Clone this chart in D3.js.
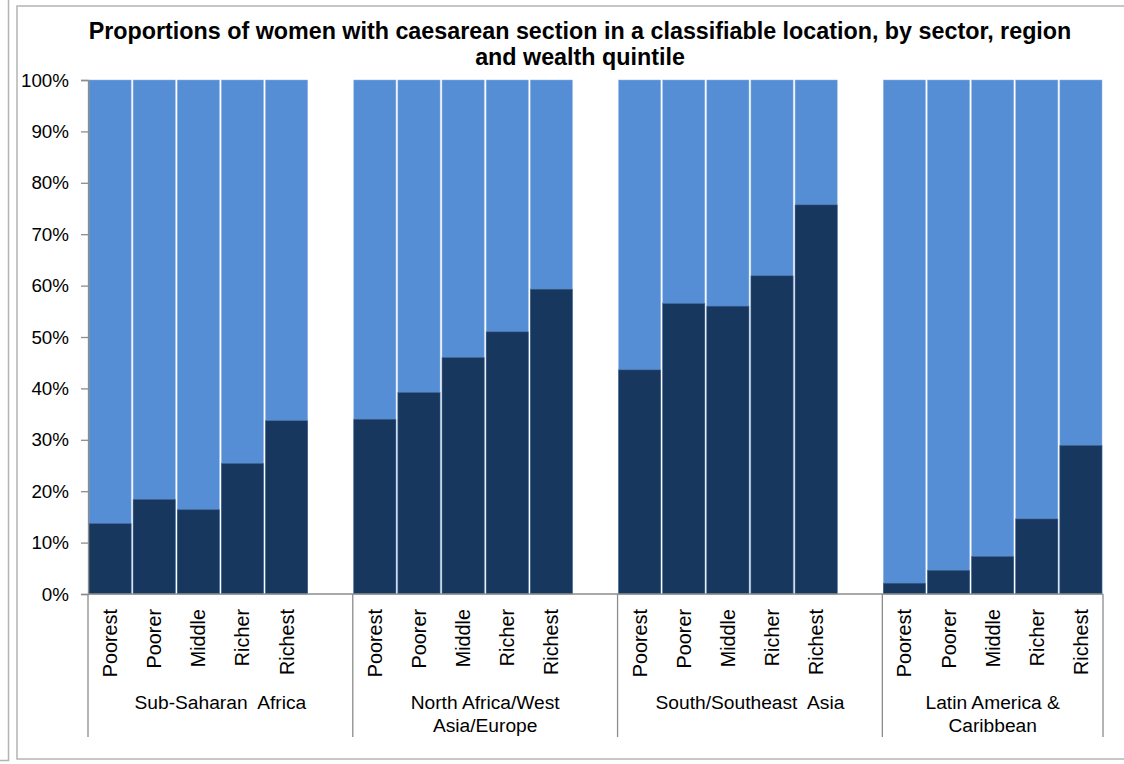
<!DOCTYPE html>
<html>
<head>
<meta charset="utf-8">
<script src="https://cdn.jsdelivr.net/npm/d3@7/dist/d3.min.js"></script>
<style>
  html, body { margin: 0; padding: 0; background: #fff; }
  svg { display: block; font-family: Arial, "Liberation Sans", sans-serif; }
</style>
</head>
<body>
<svg id="chart" width="1124" height="764"></svg>
<script>
// Regions (top level of the category axis) and their wrapped labels
const regions = ["Sub-Saharan Africa", "North Africa/West Asia/Europe", "South/Southeast Asia", "Latin America & Caribbean"];
const regionLabels = [
  ["Sub-Saharan  Africa"],
  ["North Africa/West", "Asia/Europe"],
  ["South/Southeast  Asia"],
  ["Latin America &", "Caribbean"]
];
// Wealth quintiles (second level of the category axis)
const quintiles = ["Poorest", "Poorer", "Middle", "Richer", "Richest"];
// Share (%) of caesarean sections in a classifiable location, per region, per quintile
const classifiable = [
  [13.7, 18.4, 16.4, 25.4, 33.7],
  [34.0, 39.2, 46.0, 51.0, 59.3],
  [43.6, 56.5, 56.0, 61.9, 75.7],
  [2.1, 4.6, 7.3, 14.6, 28.9]
];
// Y axis tick values (%)
const yTicks = [0, 10, 20, 30, 40, 50, 60, 70, 80, 90, 100];

const title = [
  "Proportions of women with caesarean section in a classifiable location, by sector, region",
  "and wealth quintile"
];

const colDark = "#17375E";
const colLight = "#558ED5";
const gridGray = "#8c8c8c";

const svg = d3.select("#chart");

// Surrounding frames
svg.append("path")
  .attr("d", "M8.5,0 V760.5 H0")
  .attr("fill", "none").attr("stroke", "#b4b4b4").attr("stroke-width", 1.5);
svg.append("rect")
  .attr("x", 17).attr("y", 6).attr("width", 1130).attr("height", 753)
  .attr("fill", "#fff").attr("stroke", "#b4b4b4").attr("stroke-width", 1.5);

// Title
svg.append("text")
  .attr("x", 580).attr("y", 39)
  .attr("text-anchor", "middle")
  .attr("font-weight", "bold").attr("font-size", 23.3)
  .selectAll("tspan").data(title).join("tspan")
  .attr("x", 580).attr("dy", (d, i) => i === 0 ? 0 : 26)
  .text(d => d);

// Slots: each region's five quintiles, followed by an empty spacer slot (except after the last region)
const slots = [];
regions.forEach((r, ri) => {
  quintiles.forEach((q, qi) => slots.push({ key: ri + "-" + qi, region: ri, q: qi, value: classifiable[ri][qi] }));
  if (ri < regions.length - 1) slots.push({ key: "gap-" + ri, spacer: true });
});

const plot = { left: 88, right: 1103, top: 80, bottom: 594 };

const x = d3.scaleBand()
  .domain(slots.map(d => d.key))
  .range([plot.left, plot.right])
  .paddingInner(0).paddingOuter(0);

const y = d3.scaleLinear().domain([0, 100]).range([plot.bottom, plot.top]);

const bars = slots.filter(d => !d.spacer);

// Full (100%) light bars
svg.append("g").selectAll("rect").data(bars).join("rect")
  .attr("x", d => x(d.key) + 1)
  .attr("width", x.bandwidth() - 2)
  .attr("y", y(100))
  .attr("height", y(0) - y(100))
  .attr("fill", colLight)
  .attr("stroke", "#8fb4e3").attr("stroke-width", 0.5);

// Dark bars: classifiable share
svg.append("g").selectAll("rect").data(bars).join("rect")
  .attr("x", d => x(d.key) + 1)
  .attr("width", x.bandwidth() - 2)
  .attr("y", d => y(d.value))
  .attr("height", d => y(0) - y(d.value))
  .attr("fill", colDark)
  .attr("stroke", "#4a6a90").attr("stroke-width", 0.5);

// Y axis
const yAxis = d3.axisLeft(y)
  .tickValues(yTicks)
  .tickFormat(d => d + "%")
  .tickSize(7)
  .tickPadding(12);
const gy = svg.append("g").attr("transform", `translate(${plot.left},0)`).call(yAxis);
gy.select(".domain").attr("stroke", gridGray).attr("stroke-width", 1.3);
gy.selectAll(".tick line").attr("stroke", gridGray).attr("stroke-width", 1.3);
gy.selectAll(".tick text").attr("font-size", 18.8).attr("fill", "#000")
  .attr("font-family", "Arial, 'Liberation Sans', sans-serif");

// X axis baseline
svg.append("line")
  .attr("x1", plot.left).attr("x2", plot.right)
  .attr("y1", y(0)).attr("y2", y(0))
  .attr("stroke", gridGray).attr("stroke-width", 1.3);

// Region boundaries on the category axis
const regionStart = regions.map((r, ri) => x(ri + "-0"));
const regionEnd = regions.map((r, ri) => ri < regions.length - 1 ? x("gap-" + ri) + x.bandwidth() : plot.right);
const bounds = regionStart.concat([plot.right]);
svg.append("g").selectAll("line").data(bounds).join("line")
  .attr("x1", d => d).attr("x2", d => d)
  .attr("y1", y(0)).attr("y2", 737)
  .attr("stroke", gridGray).attr("stroke-width", 1.3);

// Quintile labels (rotated)
svg.append("g").selectAll("text").data(bars).join("text")
  .attr("transform", d => `translate(${x(d.key) + x.bandwidth() / 2 + 7},609) rotate(-90)`)
  .attr("text-anchor", "end")
  .attr("font-size", 19.8)
  .text(d => quintiles[d.q]);

// Region labels
const rg = svg.append("g").selectAll("text").data(regions).join("text")
  .attr("text-anchor", "middle")
  .attr("font-size", 19.2)
  .style("white-space", "pre")
  .attr("y", 709);
rg.selectAll("tspan").data((d, i) => regionLabels[i].map(t => ({ t, cx: (regionStart[i] + regionEnd[i]) / 2 })))
  .join("tspan")
  .attr("x", d => d.cx)
  .attr("dy", (d, i) => i === 0 ? 0 : 23)
  .text(d => d.t);
</script>
</body>
</html>
